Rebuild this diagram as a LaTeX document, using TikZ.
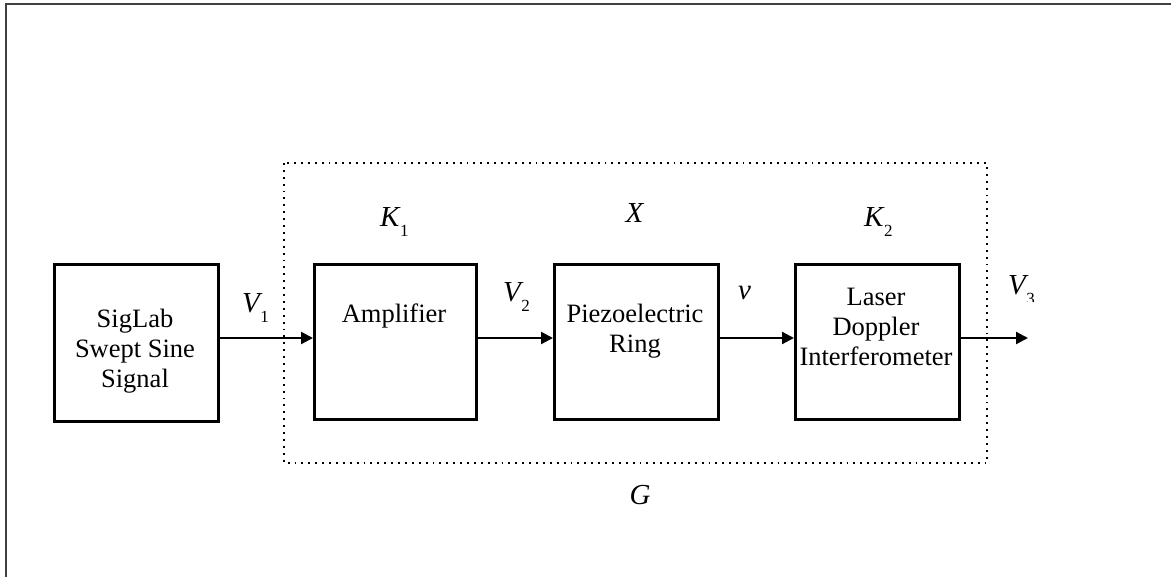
\documentclass[tikz,border=0pt]{standalone}
\usepackage{fontspec}
\setmainfont{Liberation Serif}
\usetikzlibrary{arrows.meta}
\newcommand{\sublab}[2]{{\itshape #1}\kern0.5pt\raisebox{-10pt}{\fontsize{17}{17}\selectfont #2}}
\begin{document}
\begin{tikzpicture}[x=1pt,y=-1pt,
  blockbox/.style={draw,line width=2.8pt,minimum width=164pt,minimum height=157pt,inner sep=0pt,anchor=north west},
  blocktext/.style={font=\fontsize{26.5}{30}\selectfont,align=center,inner sep=0pt},
  varlab/.style={font=\fontsize{29}{29}\selectfont,inner sep=0pt,anchor=base west},
  sig/.style={line width=2.2pt,-{Triangle[length=12pt,width=12pt]}},
  frameline/.style={line width=1.8pt,black!75},
  grouping/.style={line width=1.9pt,dash pattern=on 1.9pt off 5pt}]
\useasboundingbox (0,0) rectangle (1171,577);
\draw[frameline] (6,577) -- (6,4) -- (1171,4);
\draw[grouping] (284,163) rectangle (987,463);
% boxes
\node[blockbox] (sig) at (53,263) {};
\node[blockbox,minimum width=162pt,minimum height=155pt] (amp) at (313,263) {};
\node[blockbox,minimum height=155pt] (piezo) at (553,263) {};
\node[blockbox,minimum height=155pt] (ldi) at (794,263) {};
% texts (anchor base = baseline of last line)
\node[blocktext,anchor=base] (sigt) at (135,388) {SigLab\\Swept Sine\\Signal};
\node[blocktext,anchor=base] (ampt) at (394,323) {Amplifier};
\node[blocktext,anchor=base] (piezot) at (635,353) {Piezoelectric\\Ring};
\node[blocktext,anchor=base] (ldit) at (876,366) {Laser\\Doppler\\Interferometer};
% signal arrows
\coordinate (out) at (1028,338);
\draw[sig] (sig.east |- 0,338) -- (amp.west |- 0,338);
\draw[sig] (amp.east |- 0,338) -- (piezo.west |- 0,338);
\draw[sig] (piezo.east |- 0,338) -- (ldi.west |- 0,338);
\draw[sig] (ldi.east |- 0,338) -- (out);
% labels
\node[varlab] (v1) at (242,313) {\sublab{V}{1}};
\node[varlab] (v2) at (503,302) {\sublab{V}{2}};
\node[varlab] (vv) at (738,300) {\textit{v}};
\begin{scope}
\clip (990,250) rectangle (1060,302);
\node[varlab] (v3) at (1008,295) {\sublab{V}{3}};
\end{scope}
\node[varlab] (k1) at (380,227) {\sublab{K}{1}};
\node[varlab,anchor=base] (xx) at (635,223) {\textit{X}};
\node[varlab] (k2) at (864,227) {\sublab{K}{2}};
\node[varlab,anchor=base] (gg) at (640,504) {\textit{G}};
\end{tikzpicture}
\end{document}
